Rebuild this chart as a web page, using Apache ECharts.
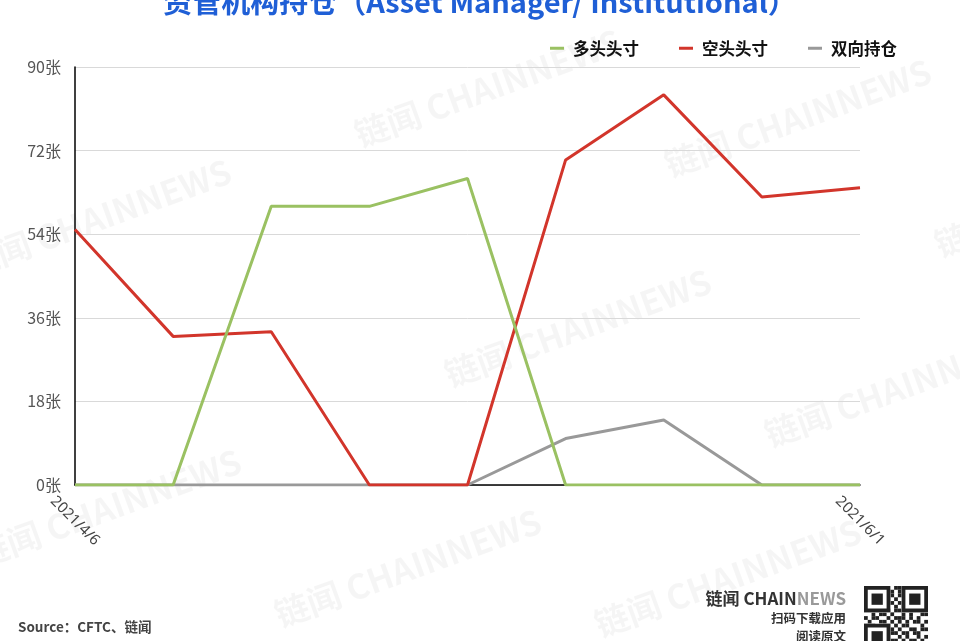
<!DOCTYPE html>
<html><head><meta charset="utf-8">
<script src="https://cdn.jsdelivr.net/npm/echarts@6/dist/echarts.min.js"></script>
<style>html,body{margin:0;padding:0;background:#fff}#c{width:960px;height:641px}</style>
</head><body><div id="c"></div>
<script>
const categories = ['2021/4/6','2021/4/13','2021/4/20','2021/4/27','2021/5/4','2021/5/11','2021/5/18','2021/5/25','2021/6/1'];
const longPos = [0, 0, 60, 60, 66, 0, 0, 0, 0];
const shortPos = [55, 32, 33, 0, 0, 70, 84, 62, 64];
const spreadPos = [0, 0, 0, 0, 0, 10, 14, 0, 0];
const seriesNames = ['多头头寸', '空头头寸', '双向持仓'];
const yTicks = [0, 18, 36, 54, 72, 90];

const chart = echarts.init(document.getElementById('c'));
const wm = [];
const wmPos = [[-40,250],[350,120],[660,150],[930,230],[440,360],[760,420],[-30,540],[270,600],[590,610]];
wmPos.forEach(p => wm.push({
  type:'text', x:p[0], y:p[1], rotation: Math.PI/9, z:0, silent:true,
  style:{text:'链闻 CHAINNEWS', font:'bold 34px "Noto Sans CJK SC", sans-serif', fill:'rgba(0,0,0,0.04)'}
}));
// QR placeholder
const qr = [];
const qx = 864, qy = 586, qs = 64;
qr.push({type:'rect', shape:{x:qx,y:qy,width:qs,height:qs}, style:{fill:'#fff'}});
const cells = 17, cw = qs/cells;
const pattern = '10110100111010011 01001011010110100 11101001011001011 00110110100101101 10101011010010110 01011100101101001 11010010110101110 00101101001010011 10110010111010100 01001101010101101 11100110101100010 00110101010011011 10101001101101100 01011110010100101 11000101101011010 00111010010110111 10100101101001010'.split(' ');
for (let r=0;r<cells;r++) for (let c=0;c<cells;c++) {
  if (pattern[r][c]==='1') qr.push({type:'rect', shape:{x:qx+c*cw,y:qy+r*cw,width:cw,height:cw}, style:{fill:'#222'}});
}
[[qx,qy],[qx+qs-7*cw,qy],[qx,qy+qs-7*cw]].forEach(p=>{
  qr.push({type:'rect', shape:{x:p[0],y:p[1],width:7*cw,height:7*cw}, style:{fill:'#fff'}});
  qr.push({type:'rect', shape:{x:p[0]+cw*0.5,y:p[1]+cw*0.5,width:6*cw,height:6*cw}, style:{fill:'none',stroke:'#222',lineWidth:cw}});
  qr.push({type:'rect', shape:{x:p[0]+2*cw,y:p[1]+2*cw,width:3*cw,height:3*cw}, style:{fill:'#222'}});
});

chart.setOption({
  backgroundColor:'#fff',
  animation:false,
  title:{
    text:'资管机构持仓（Asset Manager/ Institutional）',
    left:'center', top:-18,
    textStyle:{color:'#1f5fd6', fontSize:29, fontWeight:'bold', fontFamily:'"Noto Sans CJK SC", sans-serif'}
  },
  legend:{
    data:seriesNames, right:58, top:35, itemWidth:14, itemHeight:3, itemGap:40,
    icon:'rect',
    textStyle:{color:'#111', fontSize:16.5, fontWeight:'bold', fontFamily:'"Noto Sans CJK SC", sans-serif', padding:[0,0,0,4]}
  },
  grid:{left:75, right:100, top:67, bottom:156},
  xAxis:{
    type:'category', data:categories, boundaryGap:false,
    axisLine:{lineStyle:{color:'#000', width:1.5}},
    axisTick:{show:false},
    axisLabel:{
      interval:0, rotate:-45, color:'#444', fontSize:15, margin:36,
      align:'center', verticalAlign:'middle',
      fontFamily:'"Noto Sans", sans-serif',
      formatter:(v,i)=> (i===0 || i===categories.length-1) ? v : ''
    }
  },
  yAxis:{
    type:'value', min:yTicks[0], max:yTicks[yTicks.length-1], interval:18,
    axisLine:{show:true, lineStyle:{color:'#000', width:1.5}},
    axisTick:{show:false},
    splitLine:{lineStyle:{color:'#d9d9d9'}},
    axisLabel:{color:'#555', fontSize:16, margin:14, fontFamily:'"Noto Sans CJK SC", sans-serif', formatter:v=>v+'张'}
  },
  series:[
    {name:seriesNames[2], type:'line', data:spreadPos, symbol:'none', z:2, lineStyle:{color:'#999999', width:3}, itemStyle:{color:'#999999'}},
    {name:seriesNames[1], type:'line', data:shortPos, symbol:'none', z:3, lineStyle:{color:'#d2352b', width:3}, itemStyle:{color:'#d2352b'}},
    {name:seriesNames[0], type:'line', data:longPos, symbol:'none', z:4, lineStyle:{color:'#9ac162', width:3}, itemStyle:{color:'#9ac162'}}
  ],
  graphic:[
    ...wm,
    {type:'text', left:18, top:620, style:{text:'Source：CFTC、链闻', font:'bold 13.5px "Noto Sans CJK SC", sans-serif', fill:'#444'}},
    {type:'text', x:846, y:590, style:{align:'right', rich:{a:{font:'bold 17px "Noto Sans CJK SC", sans-serif', fill:'#333'}, b:{font:'bold 17px "Noto Sans CJK SC", sans-serif', fill:'#9a9a9a'}}, text:'{a|链闻 CHAIN}{b|NEWS}'}},
    {type:'text', x:846, y:612, style:{text:'扫码下载应用', font:'bold 12.5px "Noto Sans CJK SC", sans-serif', fill:'#333', align:'right'}},
    {type:'text', x:846, y:630, style:{text:'阅读原文', font:'bold 12.5px "Noto Sans CJK SC", sans-serif', fill:'#333', align:'right'}},
    ...qr
  ]
});
</script></body></html>
